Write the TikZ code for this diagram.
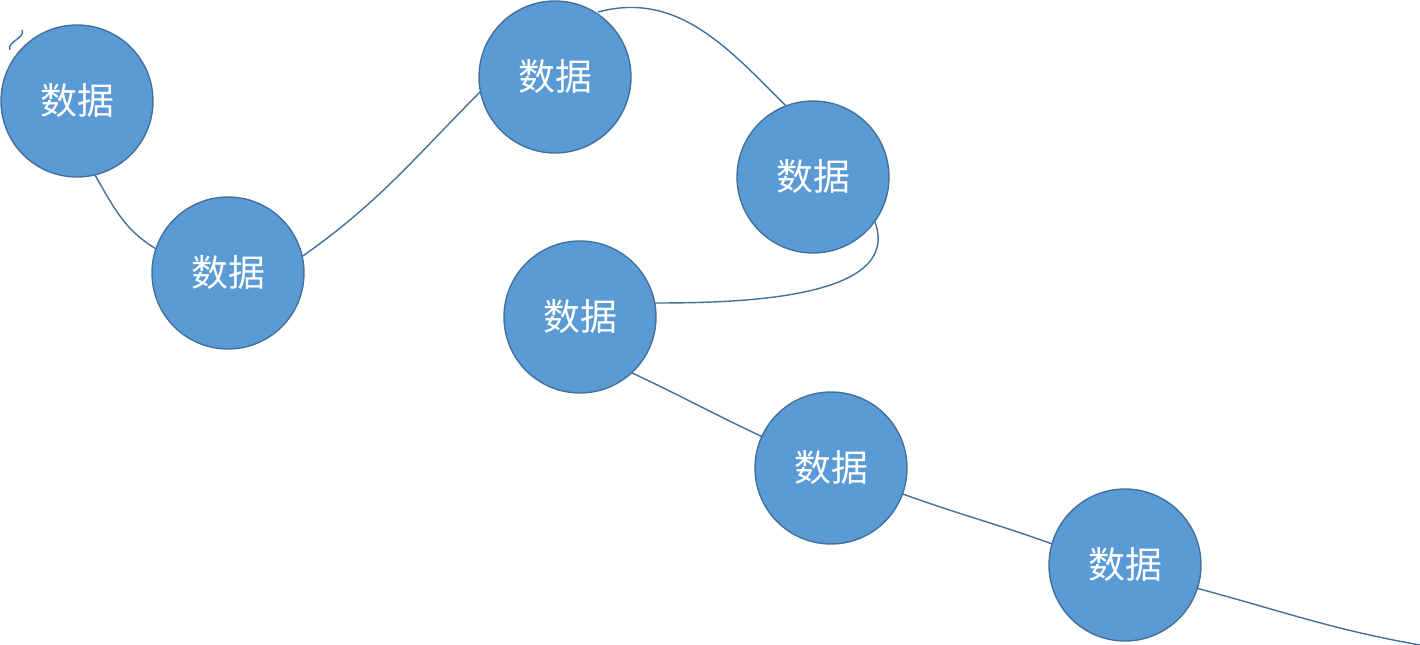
\documentclass[tikz,border=0pt]{standalone}
\usepackage{fontspec}
\newfontfamily\cjk{Noto Sans CJK SC}
\definecolor{ballfill}{HTML}{5B9BD5}
\definecolor{balledge}{HTML}{41719C}
\begin{document}
\begin{tikzpicture}[x=0.02cm, y=-0.02cm,
 ball/.style = {circle, draw=balledge, thick, fill=ballfill, text=white,
                minimum size=3.04cm, inner sep=0pt,
                font=\cjk\fontsize{21}{25}\selectfont},
 link/.style = {draw=balledge, thick}
                    ]
\useasboundingbox (0,0) rectangle (1420,645);
% free ends
\coordinate (start) at (22,30);
\coordinate (stop)  at (1420,645);
% edges
\draw[link] (start) to[out=-65,in=115] (10,50);
\draw[link] (95,175) to[out=-60,in=150] (158,250);
\draw[link] (300,258) to[out=35,in=-135] (484,88);
\draw[link] (598,12) to[out=15,in=135] (788,108);
\draw[link] (875,222) to[out=-70,in=0,looseness=0.9] (655,303);
\draw[link] (630,372) to[out=-25,in=155] (765,438);
\draw[link] (900,493) to[out=-20,in=160] (1055,545);
\draw[link] (1196,588) to[out=-15,in=170] (stop);
%nodes
\node (d1) [ball] at (77,101)  {数据};
\node (d2) [ball] at (228,273) {数据};
\node (d3) [ball] at (555,77)  {数据};
\node (d4) [ball] at (813,177) {数据};
\node (d5) [ball] at (580,317) {数据};
\node (d6) [ball] at (831,468) {数据};
\node (d7) [ball] at (1125,565) {数据};
\end{tikzpicture}
\end{document}
